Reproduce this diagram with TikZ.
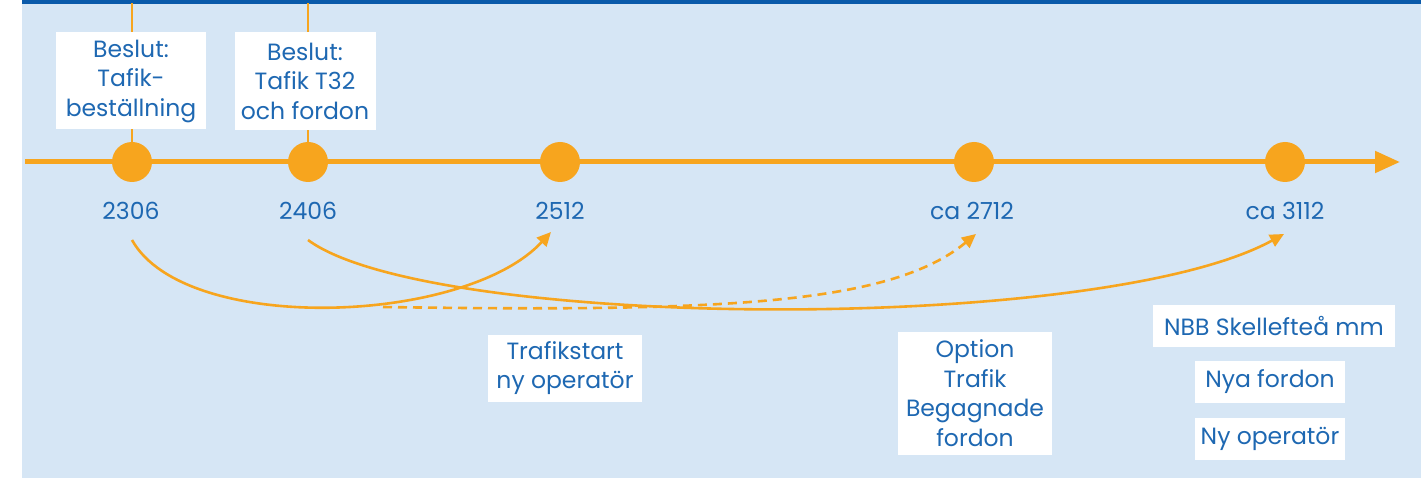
\documentclass[tikz,border=0pt]{standalone}
\usepackage{fontspec}
\setmainfont{Poppins}
\usetikzlibrary{arrows.meta}
\definecolor{bgblue}{HTML}{D6E6F5}
\definecolor{barblue}{HTML}{0A5AAA}
\definecolor{tl}{HTML}{F7A51E}
\definecolor{txt}{HTML}{1E68B2}
\tikzset{
  lbl/.style={fill=white, text=txt, align=center, font=\fontsize{23.5}{29.5}\selectfont, inner xsep=3pt, inner ysep=4pt},
  yr/.style={text=txt, font=\fontsize{23.5}{29}\selectfont},
  dot/.style={circle, fill=tl, minimum size=40pt, inner sep=0pt},
  conn/.style={draw=tl, line width=2.6pt, -{Triangle[length=14pt,width=13pt]}},
}
\begin{document}
\begin{tikzpicture}[x=1pt,y=-1pt]
\useasboundingbox (0,0) rectangle (1421,478);
\fill[bgblue] (22,0) rectangle (1421,478);
\fill[barblue] (22,0) rectangle (1421,4);
% timeline
\coordinate (tlstart) at (25,162);
\coordinate (tlend) at (1400,162);
\draw[tl, line width=5pt, -{Triangle[length=25pt,width=21pt]}] (tlstart) -- (tlend);
\node[dot] (d1) at (132,162) {};
\node[dot] (d2) at (308,162) {};
\node[dot] (d3) at (560,162) {};
\node[dot] (d4) at (974,162) {};
\node[dot] (d5) at (1285,162) {};
\coordinate (t1) at (132,3);
\coordinate (t2) at (308,3);
\draw[tl, line width=2.6pt] (t1) -- (d1.center);
\draw[tl, line width=2.6pt] (t2) -- (d2.center);
\node[lbl, minimum width=150pt, minimum height=97pt] (b1) at (131,81) {Beslut:\\Tafik-\\beställning};
\node[lbl, minimum width=141pt, minimum height=98pt] (b2) at (305,81) {Beslut:\\Tafik T32\\och fordon};
% years
\node[yr] (y1) at (131,211) {2306};
\node[yr] (y2) at (308,211) {2406};
\node[yr] (y3) at (560,211) {2512};
\node[yr] (y4) at (972,211) {ca 2712};
\node[yr] (y5) at (1285,211) {ca 3112};
% curves
\coordinate (c1s) at (132,240);
\coordinate (c1e) at (551,232);
\coordinate (c2s) at (308,240);
\coordinate (c2e) at (1284,234);
\coordinate (c3s) at (383,307);
\coordinate (c3e) at (976,234);
\draw[conn] (c1s) .. controls (185,335) and (465,325) .. (c1e);
\draw[conn] (c2s) .. controls (430,330) and (1100,335) .. (c2e);
\draw[conn, dashed, dash pattern=on 9pt off 6pt] (c3s) .. controls (720,312) and (890,305) .. (c3e);
% boxes
\node[lbl, minimum width=154pt, minimum height=67pt] (n1) at (565,368) {Trafikstart\\ny operatör};
\node[lbl, minimum width=154pt, minimum height=123pt] (n2) at (975,393) {Option\\Trafik\\Begagnade\\fordon};
\node[lbl, minimum width=242pt, minimum height=42pt] (n3) at (1274,326) {NBB Skellefteå mm};
\node[lbl, minimum width=150pt, minimum height=42pt] (n4) at (1270,382) {Nya fordon};
\node[lbl, minimum width=150pt, minimum height=42pt] (n5) at (1270,439) {Ny operatör};
\end{tikzpicture}
\end{document}
